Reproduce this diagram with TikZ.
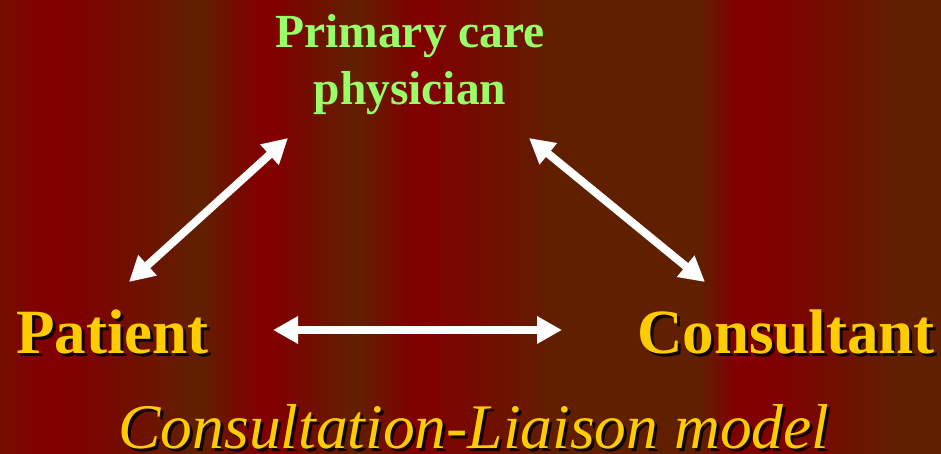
\documentclass[tikz,border=0pt]{standalone}
\usepackage{fontspec}
\setmainfont{Liberation Serif}
\usetikzlibrary{arrows.meta}
\definecolor{bgred}{RGB}{128,0,0}
\definecolor{bgbrown}{RGB}{96,32,0}
\definecolor{bgmid}{RGB}{114,18,0}
\definecolor{pcgreen}{RGB}{153,255,102}
\definecolor{gold}{RGB}{255,204,0}
\tikzset{
  band/.style 2 args={left color=#1, right color=#2, draw=none},
  actor/.style={font=\fontsize{63}{70}\selectfont\bfseries, text=gold, inner sep=0pt, anchor=base west},
  shadowtxt/.style={text=black, opacity=0.85},
  link/.style={line width=8pt, draw=white, {Triangle[length=25pt,width=26pt,fill=white]}-{Triangle[length=25pt,width=26pt,fill=white]}}
}
\begin{document}
\begin{tikzpicture}[x=1pt,y=-1pt]
\useasboundingbox (0,0) rectangle (941,453);
% background stripes
\begin{scope}
\clip (0,0) rectangle (941,453);
\shade[band={bgmid}{bgred}] (-5,-10) rectangle (36,470);
\fill[bgred] (35.5,-10) rectangle (69,470);
\shade[band={bgred}{bgbrown}] (68.5,-10) rectangle (200,470);
\shade[band={bgbrown}{bgred}] (199.5,-10) rectangle (258,470);
\fill[bgred] (257.5,-10) rectangle (276,470);
\shade[band={bgred}{bgbrown}] (275.5,-10) rectangle (355,470);
\shade[band={bgbrown}{bgred}] (354.5,-10) rectangle (414,470);
\fill[bgred] (413.5,-10) rectangle (426,470);
\shade[band={bgred}{bgbrown}] (425.5,-10) rectangle (560,470);
\fill[bgbrown] (559.5,-10) rectangle (700,470);
\shade[band={bgbrown}{bgred}] (699.5,-10) rectangle (735,470);
\fill[bgred] (734.5,-10) rectangle (777,470);
\shade[band={bgred}{bgbrown}] (776.5,-10) rectangle (900,470);
\fill[bgbrown] (899.5,-10) rectangle (950,470);

% title text
\node[font=\fontsize{47.5}{57}\selectfont\bfseries, text=pcgreen, align=center, inner sep=0pt, anchor=north] (pcp) at (410,14) {Primary care\\physician};

% actors with drop shadows
\node[actor, shadowtxt] (patientsh) at (19,356) {Patient};
\node[actor] (patient) at (16,353) {Patient};
\node[actor, shadowtxt] (consultsh) at (640,356) {Consultant};
\node[actor] (consult) at (637,353) {Consultant};

% caption
\node[font=\fontsize{63.5}{70}\selectfont\itshape, text=black, opacity=0.85, inner sep=0pt, anchor=base] (capsh) at (477,451) {Consultation-Liaison model};
\node[font=\fontsize{63.5}{70}\selectfont\itshape, text=gold, inner sep=0pt, anchor=base] (caption) at (474,448) {Consultation-Liaison model};
\end{scope}

% arrow end points
\coordinate (pA) at (129,282);
\coordinate (pB) at (288,138);
\coordinate (cA) at (529,138);
\coordinate (cB) at (705,282);
\coordinate (hA) at (273,330);
\coordinate (hB) at (562,330);
\draw[link] (pA) -- (pB);
\draw[link] (cA) -- (cB);
\draw[link] (hA) -- (hB);
\end{tikzpicture}
\end{document}
